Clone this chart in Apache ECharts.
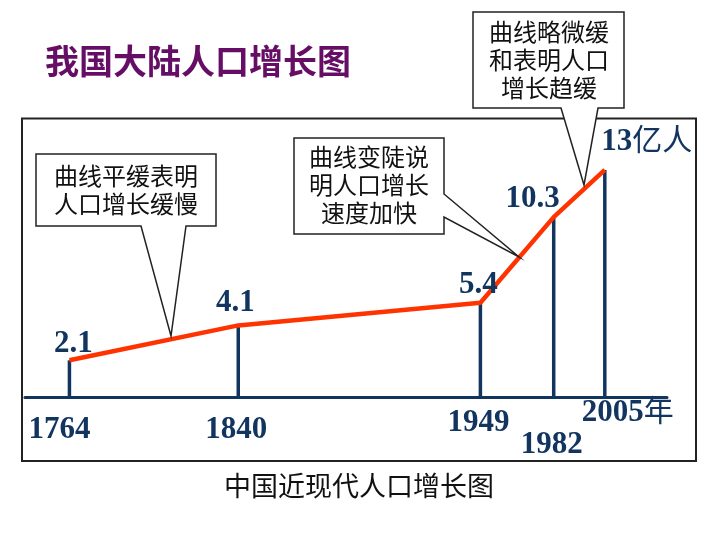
<!DOCTYPE html>
<html>
<head>
<meta charset="utf-8">
<script src="https://cdn.jsdelivr.net/npm/echarts@6/dist/echarts.min.js"></script>
<style>html,body{margin:0;padding:0;background:#fff;}#c{width:720px;height:540px;}</style>
</head>
<body>
<div id="c"></div>
<script>
// ---- data ----
var years = [1764, 1840, 1949, 1982, 2005];
var population = [2.1, 4.1, 5.4, 10.3, 13];           // 亿人
var valueLabels = ['2.1', '4.1', '5.4', '10.3', '{n|13}{c|亿人}'];
var yearLabels = ['1764', '1840', '1949', '1982', '{n|2005}{c|年}'];
var titleText = '我国大陆人口增长图';
var captionText = '中国近现代人口增长图';
var notes = ['曲线平缓表明\n人口增长缓慢', '曲线变陡说\n明人口增长\n速度加快', '曲线略微缓\n和表明人口\n增长趋缓'];

// ---- styles (label offsets in px) ----
var valueOffsets = [[4, -16], [-3, -22], [-2, -18], [-21, -18], [42, -28]];
var yearOffsets = [[-10, 33], [-2, 33], [-2, 26], [-2, 48], [23, 16]];
var NAVY = '#123560';
var serif = 'Liberation Serif, "Times New Roman", serif';

var pts = years.map(function (y, i) { return [y, population[i]]; });

var richNum = {
  n: { fontFamily: serif, fontWeight: 'bold', fontSize: 31, color: NAVY, textBorderWidth: 0 },
  c: { fontFamily: 'Liberation Serif, "Noto Sans CJK SC", serif', fontWeight: 'normal', fontSize: 30, color: NAVY, textBorderWidth: 0 }
};
var labelBase = { show: true, position: 'inside', fontFamily: serif, fontWeight: 'bold', fontSize: 31,
                  color: NAVY, textBorderWidth: 0, textBorderColor: 'transparent', rich: richNum };

var chart = echarts.init(document.getElementById('c'), null, { renderer: 'canvas' });

function callout(points, text, cx, cy) {
  return [
    { type: 'polygon', z: 100, shape: { points: points },
      style: { fill: '#fff', stroke: '#222', lineWidth: 1.5 } },
    { type: 'text', z: 101, x: cx, y: cy,
      style: { text: text, font: '24px "Noto Sans CJK SC", sans-serif', fill: '#111',
               align: 'center', verticalAlign: 'middle', lineHeight: 28 } }
  ];
}

var graphics = [
  { type: 'rect', z: 0, shape: { x: 22, y: 118.5, width: 674, height: 342.5 },
    style: { fill: 'none', stroke: '#222', lineWidth: 2 } },
  { type: 'text', x: 45, y: 61, style: { text: titleText, font: 'bold 34px "Noto Sans CJK SC", sans-serif',
    fill: '#660e66', align: 'left', verticalAlign: 'middle' } },
  { type: 'text', x: 359, y: 486, style: { text: captionText, font: '27px "Noto Sans CJK SC", sans-serif',
    fill: '#111', align: 'center', verticalAlign: 'middle' } }
]
.concat(callout([[36,154],[216,154],[216,226],[186,226],[171,336],[141,226],[36,226]], notes[0], 126, 190))
.concat(callout([[294,138],[444,138],[444,194],[519,257],[444,217],[444,234],[294,234]], notes[1], 369, 185))
.concat(callout([[473,12],[624,12],[624,108],[598,108],[584,185],[561,108],[473,108]], notes[2], 549, 59.5));

chart.setOption({
  animation: false,
  backgroundColor: '#fff',
  grid: { left: 25, right: 53, top: 135, bottom: 143 },
  xAxis: {
    type: 'value', min: 1744, max: 2033,
    axisLine: { show: true, lineStyle: { color: NAVY, width: 3 } },
    axisTick: { show: false }, axisLabel: { show: false }, splitLine: { show: false }
  },
  yAxis: {
    type: 'value', min: 0, max: 15,
    axisLine: { show: false }, axisTick: { show: false }, axisLabel: { show: false }, splitLine: { show: false }
  },
  series: [
    { type: 'bar', data: pts, barWidth: 3.5, itemStyle: { color: NAVY }, z: 2 },
    { type: 'line', data: pts, symbol: 'none', z: 3,
      lineStyle: { color: '#ff3300', width: 4.5 } },
    { type: 'scatter', symbolSize: 0, z: 4, itemStyle: { color: NAVY, opacity: 1 },
      data: pts.map(function (p, i) {
        return { value: p, label: { offset: valueOffsets[i], formatter: valueLabels[i] } };
      }),
      label: labelBase },
    { type: 'scatter', symbolSize: 0, z: 4, itemStyle: { color: NAVY, opacity: 1 },
      data: years.map(function (y, i) {
        return { value: [y, 0], label: { offset: yearOffsets[i], formatter: yearLabels[i] } };
      }),
      label: labelBase }
  ],
  graphic: graphics
});
</script>
</body>
</html>
